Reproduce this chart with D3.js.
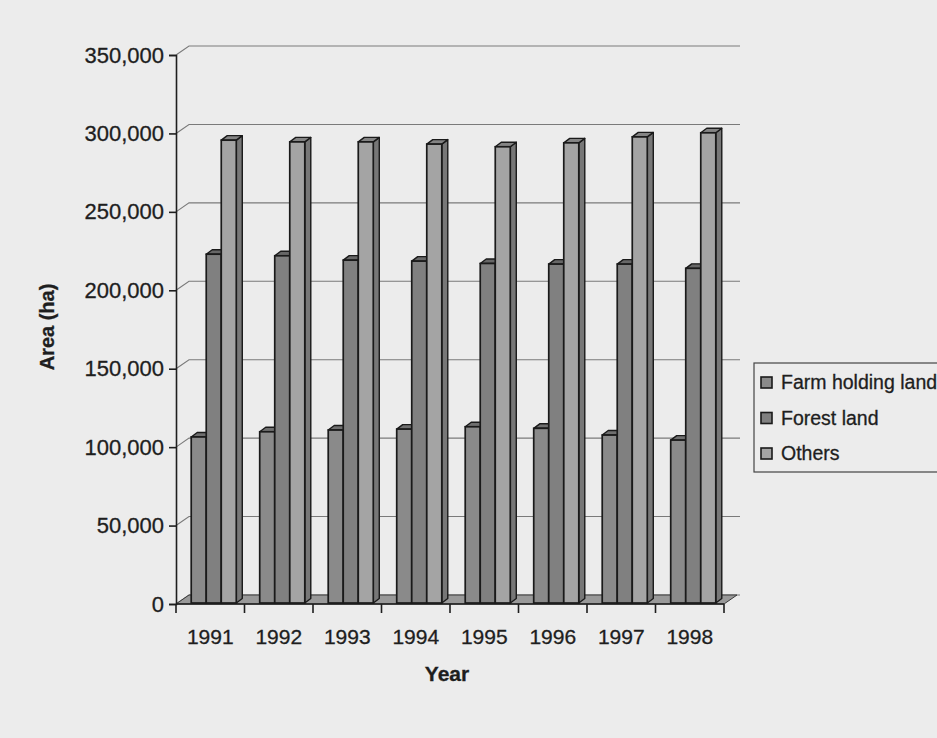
<!DOCTYPE html>
<html>
<head>
<meta charset="utf-8">
<script src="https://cdn.jsdelivr.net/npm/d3@7/dist/d3.min.js"></script>
<style>
  html, body { margin: 0; padding: 0; background: #ececec; }
  svg { display: block; }
  text { font-family: "Liberation Sans", Arial, sans-serif; fill: #1e1e1e; stroke: #1e1e1e; stroke-width: 0.3px; }
</style>
</head>
<body>
<svg id="chart" width="937" height="738"></svg>
<script>
// Land use by year (ha)
const years = ["1991", "1992", "1993", "1994", "1995", "1996", "1997", "1998"];
const seriesNames = ["Farm holding land", "Forest land", "Others"];
const farmLand   = [106500, 109800, 110900, 111500, 113000, 112000, 107700, 104500];
const forestLand = [223000, 222000, 219200, 218600, 217100, 216700, 216700, 214000];
const others     = [295700, 294600, 294600, 293200, 291500, 294000, 297800, 300400];
const yTicks = [0, 50000, 100000, 150000, 200000, 250000, 300000, 350000];

const seriesValues = [farmLand, forestLand, others];
const seriesColors = ["#8a8a8a", "#808080", "#a4a4a4"];

const svg = d3.select("#chart");
const W = 937, H = 738;
svg.append("rect").attr("width", W).attr("height", H).attr("fill", "#ececec");

// Plot frame (front plane) and 3D depth of the walls
const plotLeft = 176, plotRight = 724, plotBottom = 604, plotTop = 55;
const depthX = 13, depthY = -9;
const wallRight = 740;

const y = d3.scaleLinear().domain([0, 350000]).range([plotBottom, plotTop]);
const x = d3.scaleBand().domain(years).range([plotLeft, plotRight]).paddingInner(0).paddingOuter(0);
const xs = d3.scaleBand().domain(seriesNames).range([0, x.bandwidth()]).paddingInner(0).paddingOuter(0.78);

// Back wall gridlines with the diagonal joins to the axis
const grid = svg.append("g");
yTicks.forEach(t => {
  const yy = y(t);
  grid.append("path")
    .attr("d", `M${plotLeft},${yy} L${plotLeft + depthX},${yy + depthY} L${wallRight},${yy + depthY}`)
    .attr("fill", "none").attr("stroke", "#7a7a7a").attr("stroke-width", 1.1);
});

// Floor
svg.append("path")
  .attr("d", `M${plotLeft},${plotBottom} L${plotRight},${plotBottom} L${plotRight + depthX},${plotBottom + depthY} L${plotLeft + depthX},${plotBottom + depthY} Z`)
  .attr("fill", "#999999").attr("stroke", "#3a3a3a").attr("stroke-width", 1);

// Y axis
const yAxis = svg.append("g").attr("transform", `translate(${plotLeft},0)`)
  .call(d3.axisLeft(y).tickValues(yTicks).tickSize(7).tickPadding(5)
    .tickFormat(d3.format(",")));
yAxis.select(".domain").attr("stroke", "#1e1e1e").attr("stroke-width", 1.6);
yAxis.selectAll(".tick line").attr("stroke", "#1e1e1e").attr("stroke-width", 1.6);
yAxis.selectAll(".tick text").attr("font-size", 22).attr("fill", "#1e1e1e")
  .attr("font-family", "'Liberation Sans', Arial, sans-serif");

// X axis: boundary ticks below the floor, labels at band centres
const xAxis = svg.append("g").attr("transform", `translate(0,${plotBottom})`);
xAxis.append("line").attr("x1", plotLeft).attr("x2", plotRight).attr("y1", 0).attr("y2", 0)
  .attr("stroke", "#1e1e1e").attr("stroke-width", 1.6);
const bounds = years.map(d => x(d)).concat([x(years[years.length - 1]) + x.bandwidth()]);
xAxis.selectAll("line.tk").data(bounds).join("line").attr("class", "tk")
  .attr("x1", d => d).attr("x2", d => d).attr("y1", 0).attr("y2", 9)
  .attr("stroke", "#1e1e1e").attr("stroke-width", 1.6);
xAxis.selectAll("text").data(years).join("text")
  .attr("x", d => x(d) + x.bandwidth() / 2)
  .attr("y", 40)
  .attr("text-anchor", "middle")
  .attr("font-size", 21)
  .text(d => d);

// 3D columns
const barDX = 6, barDY = -4.5, barShift = 3.5;
const bars = svg.append("g");
years.forEach((yr, i) => {
  seriesNames.forEach((s, j) => {
    const v = seriesValues[j][i];
    const x0 = x(yr) + xs(s) + barShift;
    const w = xs.bandwidth();
    const y0 = y(v), y1 = y(0) - 1;
    const base = d3.color(seriesColors[j]);
    const g = bars.append("g");
    // right side face
    g.append("path")
      .attr("d", `M${x0 + w},${y0} L${x0 + w + barDX},${y0 + barDY} L${x0 + w + barDX},${y1 + barDY} L${x0 + w},${y1} Z`)
      .attr("fill", base.darker(0.9)).attr("stroke", "#1a1a1a").attr("stroke-width", 1.4)
      .attr("stroke-linejoin", "round");
    // top face
    g.append("path")
      .attr("d", `M${x0},${y0} L${x0 + barDX},${y0 + barDY} L${x0 + w + barDX},${y0 + barDY} L${x0 + w},${y0} Z`)
      .attr("fill", base.darker(0.6)).attr("stroke", "#1a1a1a").attr("stroke-width", 1.4)
      .attr("stroke-linejoin", "round");
    // front face
    g.append("rect")
      .attr("x", x0).attr("y", y0).attr("width", w).attr("height", y1 - y0)
      .attr("fill", base).attr("stroke", "#1a1a1a").attr("stroke-width", 1.7);
  });
});

// Axis titles
svg.append("text")
  .attr("transform", `translate(54,327) rotate(-90)`)
  .attr("text-anchor", "middle")
  .attr("font-size", 20).attr("font-weight", "bold")
  .text("Area (ha)");
svg.append("text")
  .attr("x", 447).attr("y", 681)
  .attr("text-anchor", "middle")
  .attr("font-size", 21).attr("font-weight", "bold")
  .text("Year");

// Legend
const legend = svg.append("g");
legend.append("rect")
  .attr("x", 754).attr("y", 363).attr("width", 200).attr("height", 109)
  .attr("fill", "#ececec").attr("stroke", "#444").attr("stroke-width", 1.2);
seriesNames.forEach((s, j) => {
  const cy = 382.5 + j * 35.5;
  legend.append("rect")
    .attr("x", 761).attr("y", cy - 5.5).attr("width", 11).attr("height", 11)
    .attr("fill", seriesColors[j]).attr("stroke", "#1a1a1a").attr("stroke-width", 1.6);
  legend.append("text")
    .attr("x", 781).attr("y", cy + 6.5)
    .attr("font-size", 19.5)
    .text(s);
});
</script>
</body>
</html>
